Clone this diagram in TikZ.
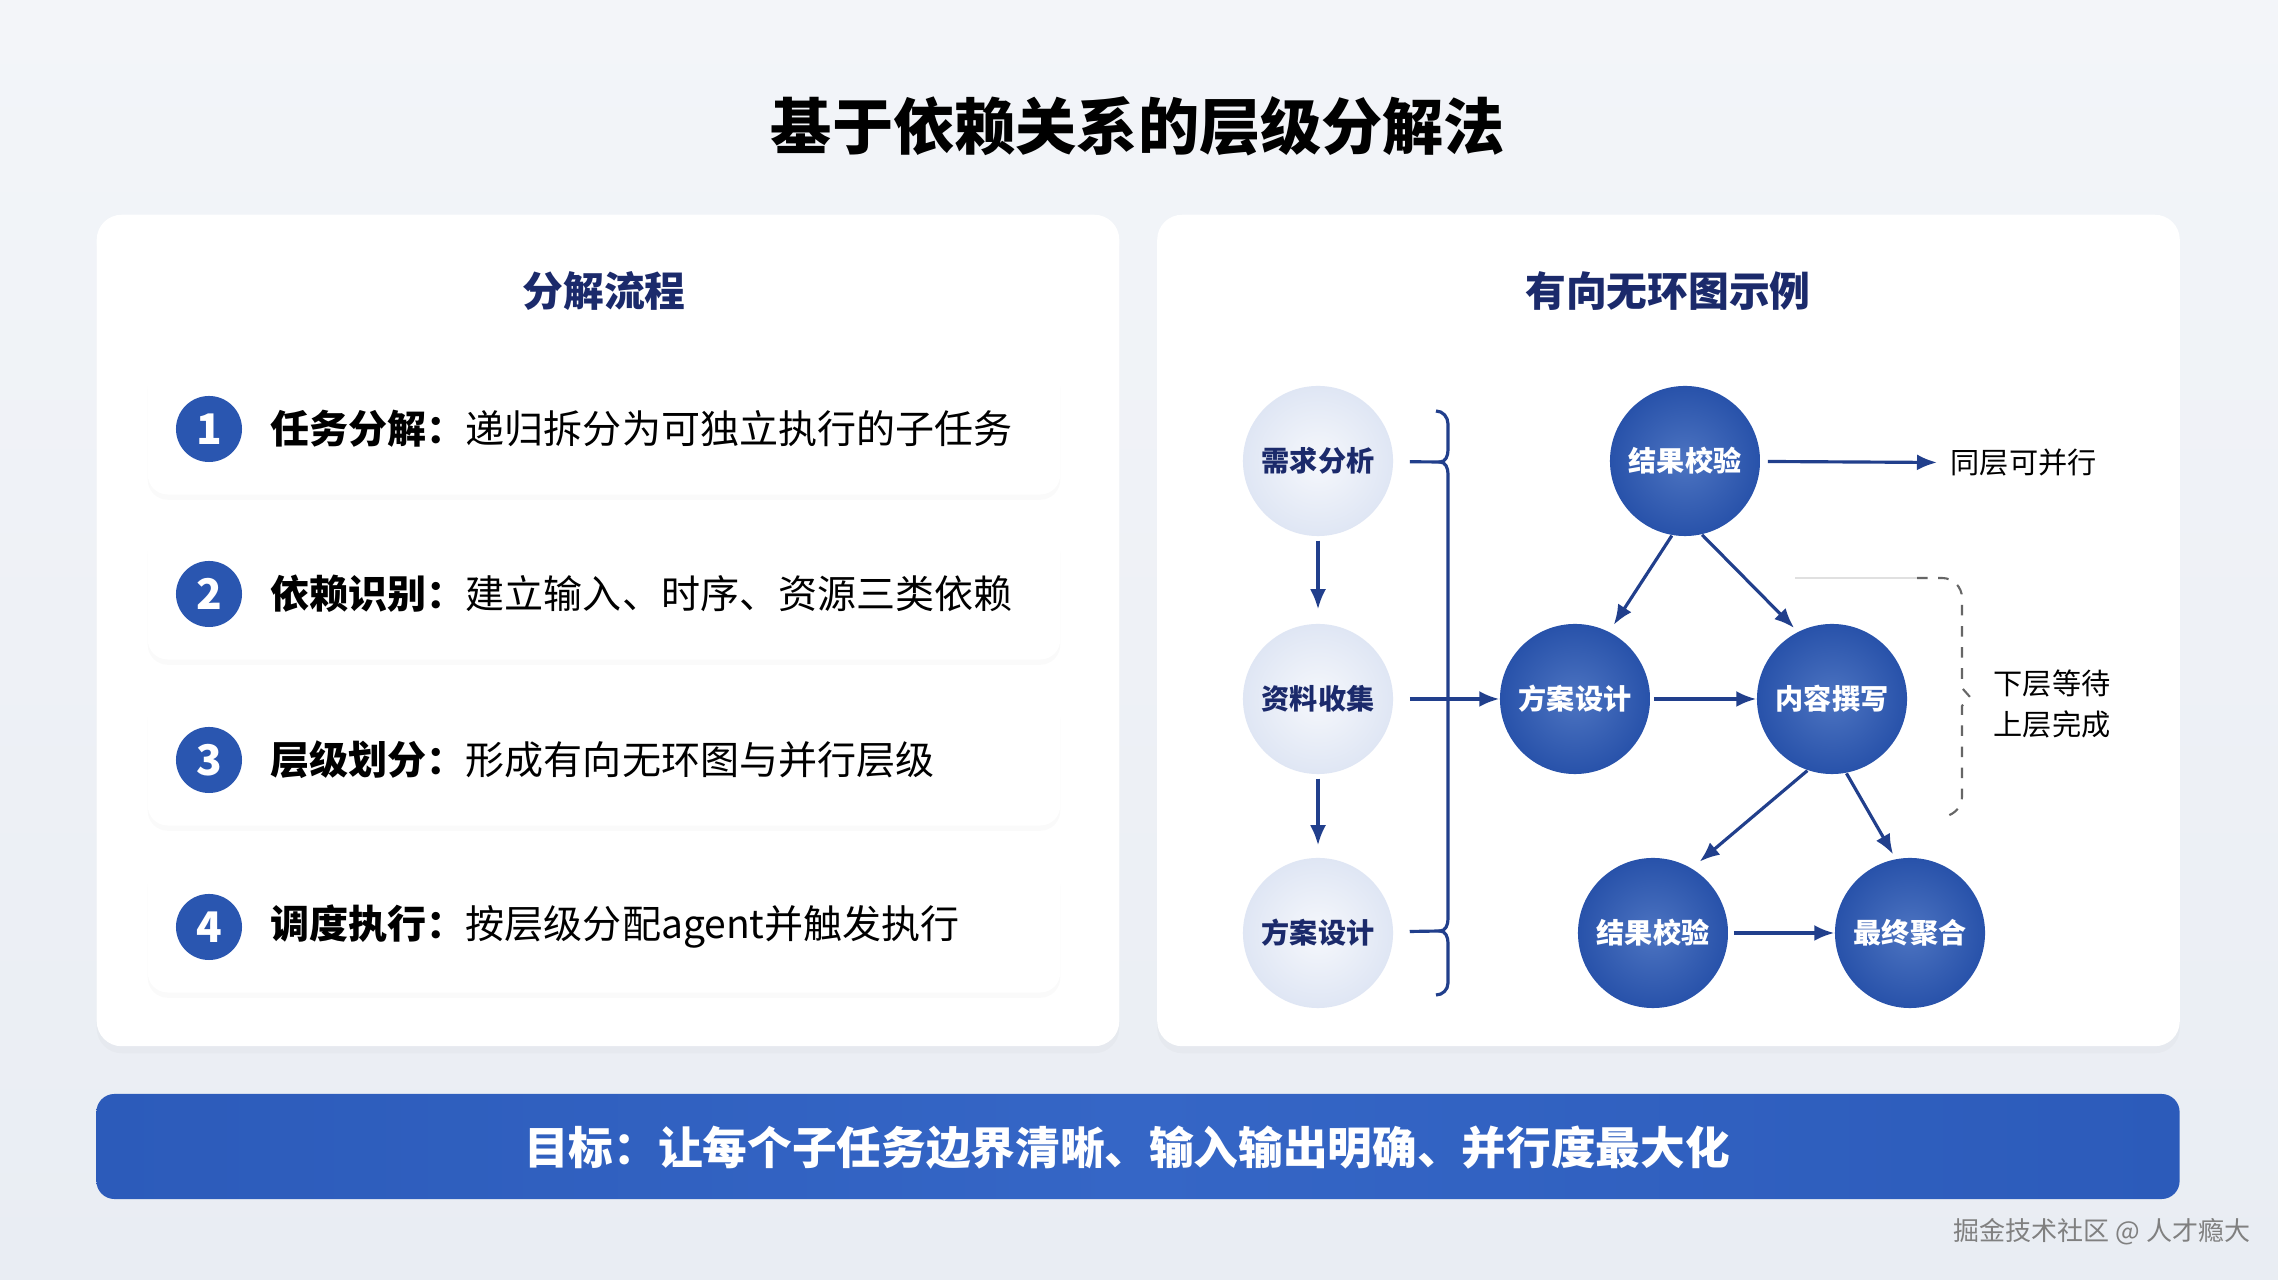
\documentclass[tikz,border=0pt]{standalone}
\usepackage{fontspec}
\setmainfont{Noto Sans CJK SC}
\usepackage{tikz}
\usetikzlibrary{arrows.meta,positioning,shadows}

\definecolor{navy}{HTML}{1B2A6B}
\definecolor{dagblue}{HTML}{2D5BB6}
\definecolor{dagdark}{HTML}{2852AA}
\definecolor{arrowblue}{HTML}{213F8C}
\definecolor{liteblue}{HTML}{DFE6F4}
\definecolor{bgtop}{HTML}{F3F5F9}
\definecolor{bgbot}{HTML}{E9EDF3}
\definecolor{barL}{HTML}{2C5BBA}
\definecolor{barM}{HTML}{3566C6}
\definecolor{numblue}{HTML}{2A56B0}

\begin{document}
\begin{tikzpicture}[x=0.01cm, y=-0.01cm,
    panel/.style={fill=white, rounded corners=0.25cm, minimum width=10.22cm, minimum height=8.31cm,
      drop shadow={opacity=0.04, shadow xshift=0pt, shadow yshift=-2pt}},
    card/.style={fill=white, rounded corners=0.2cm, minimum width=9.12cm, minimum height=1.31cm,
      drop shadow={opacity=0.035, shadow xshift=0pt, shadow yshift=-1.5pt}},
    num/.style={circle, fill=numblue, text=white, minimum size=0.66cm, inner sep=0pt, font=\fontsize{12}{14}\selectfont\bfseries},
    steptext/.style={anchor=west, inner sep=0pt, font=\fontsize{11.1}{13}\selectfont},
    ptitle/.style={text=navy, font=\fontsize{11.6}{14}\selectfont\bfseries},
    lite/.style={circle, minimum size=1.5cm, inner sep=0pt, inner color=white!70!liteblue, outer color=liteblue,
      text=navy, font=\fontsize{8}{10}\selectfont\bfseries},
    dag/.style={circle, minimum size=1.5cm, inner sep=0pt, inner color=dagblue!85!white, outer color=dagdark,
      text=white, font=\fontsize{8}{10}\selectfont\bfseries},
    side/.style={anchor=west, inner sep=0pt, align=left, font=\fontsize{8.3}{11.7}\selectfont},
    arrow/.style={-{Latex[length=0.2cm, width=0.16cm]}, line width=0.9pt, arrowblue},
    brace/.style={line width=0.9pt, arrowblue}
  ]
    % background
    \shade[top color=bgtop, bottom color=bgbot] (0,0) rectangle (2278,1280);
    \useasboundingbox (0,0) rectangle (2278,1280);

    \node[font=\fontsize{17.4}{20}\selectfont\bfseries] (title) at (1138,126) {基于依赖关系的层级分解法};

    % panels
    \node[panel] (lpanel) at (608,630.5) {};
    \node[panel] (rpanel) at (1668.5,630.5) {};
    \node[ptitle] (ltitle) at (604,291) {分解流程};
    \node[ptitle] (rtitle) at (1668,291) {有向无环图示例};

    % steps
    \node[card] (card1) at (604,429) {};
    \node[card] (card2) at (604,594) {};
    \node[card] (card3) at (604,760) {};
    \node[card] (card4) at (604,927) {};
    \node[num] (n1) at (209,429) {1};
    \node[num] (n2) at (209,594) {2};
    \node[num] (n3) at (209,760) {3};
    \node[num] (n4) at (209,927) {4};
    \node[steptext] (s1) at (270,429) {\textbf{任务分解：}递归拆分为可独立执行的子任务};
    \node[steptext] (s2) at (270,594) {\textbf{依赖识别：}建立输入、时序、资源三类依赖};
    \node[steptext] (s3) at (270,760) {\textbf{层级划分：}形成有向无环图与并行层级};
    \node[steptext] (s4) at (270,927) {\textbf{调度执行：}按层级分配agent并触发执行};

    % DAG example
    \node[lite] (req) at (1318,461) {需求分析};
    \node[lite] (col) at (1318,699) {资料收集};
    \node[lite] (des) at (1318,933) {方案设计};

    \node[dag] (chk)   at (1685,461) {结果校验};
    \node[dag] (plan)  at (1575,699) {方案设计};
    \node[dag] (write) at (1832,699) {内容撰写};
    \node[dag] (chk2)  at (1653,933) {结果校验};
    \node[dag] (agg)   at (1910,933) {最终聚合};

    \node[side] (par) at (1950,463) {同层可并行};
    \node[side] (wait) at (1993,704) {下层等待\\上层完成};

    \coordinate (b1) at (1440,462);
    \coordinate (b2) at (1440,931);
    \draw[brace] (1436,411) to[out=0,in=90] (1448,424) -- (1448,450) to[out=-90,in=0] (b1)
      to[out=0,in=90] (1448,474) -- (1448,919) to[out=-90,in=0] (b2)
      to[out=0,in=90] (1448,943) -- (1448,983) to[out=-90,in=0] (1436,995);
    \draw[brace, shorten <=0.16cm] (req) -- (b1);
    \draw[brace, shorten <=0.16cm] (des) -- (b2);

    \draw[arrow, shorten <=0.04cm, shorten >=0.14cm] (req) -- (col);
    \draw[arrow, shorten <=0.04cm, shorten >=0.12cm] (col) -- (des);
    \draw[arrow, shorten <=0.16cm] (col) -- (plan);

    \draw[arrow, shorten >=0.08cm] (chk.-100) -- (plan.63);
    \draw[arrow, shorten >=0.05cm] (chk.-77) -- (write.117);
    \draw[arrow, shorten <=0.03cm] (plan) -- (write);
    \draw[arrow, shorten >=0.1cm] (write.-109) -- (chk2.59);
    \draw[arrow, shorten >=0.05cm] (write.-79) -- (agg.101);
    \draw[arrow, shorten <=0.05cm] (chk2) -- (agg);
    \draw[arrow, shorten <=0.07cm, shorten >=0.13cm] (chk) -- (par);

    % waiting bracket
    \draw[black!12, line width=0.6pt] (1795,578) -- (1917,578);
    \draw[black!60, dashed, line width=0.6pt] (1917,578) -- (1942,578) to[out=0,in=90] (1962,598)
      -- (1962,688) -- (1970,697) -- (1962,706) -- (1962,797) to[out=-90,in=0] (1940,817);

    % goal bar
    \node[rounded corners=0.18cm, minimum width=20.82cm, minimum height=1.05cm,
      left color=barL, right color=barL, middle color=barM] (goal) at (1138,1146.5) {};
    \node[text=white, font=\fontsize{12.7}{15}\selectfont\bfseries] (goaltext) at (1127,1148)
      {目标：让每个子任务边界清晰、输入输出明确、并行度最大化};

    \node[text=black!50, font=\fontsize{7.4}{9}\selectfont] (mark) at (2102,1232) {掘金技术社区 @ 人才瘾大};
\end{tikzpicture}
\end{document}
